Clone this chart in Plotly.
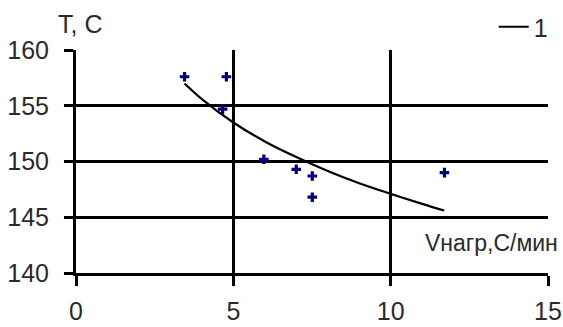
import plotly.graph_objects as go

# Data
v_heat = [3.45, 4.78, 4.66, 5.97, 7.00, 7.51, 7.51, 11.71]
temp = [157.6, 157.6, 154.7, 150.2, 149.3, 148.7, 146.8, 149.0]

trend_x = [3.45, 4, 5, 6, 7, 8, 9, 10, 11, 11.7]
trend_y = [157.0, 155.6, 153.5, 151.8, 150.4, 149.15, 148.05, 147.1, 146.2, 145.6]

x_ticks = [0, 5, 10, 15]
y_ticks = [140, 145, 150, 155, 160]

FONT = "Liberation Sans, Arial, sans-serif"
TXT = "#2a2a2a"

fig = go.Figure()
fig.add_trace(go.Scatter(
    x=trend_x, y=trend_y, mode="lines", name="1",
    line=dict(color="black", width=2.2, shape="spline"),
))
fig.add_trace(go.Scatter(
    x=v_heat, y=temp, mode="markers", showlegend=False,
    marker=dict(symbol="cross", size=8, color="#000080", line=dict(width=0)),
))

fig.update_layout(
    width=563, height=327,
    margin=dict(l=76, r=15, t=50, b=54, autoexpand=False),
    paper_bgcolor="white", plot_bgcolor="white",
    font=dict(family=FONT, size=25, color=TXT),
    showlegend=True,
    legend=dict(x=1.01, xanchor="right", y=1.0, yanchor="bottom",
                font=dict(size=25, color=TXT),
                bgcolor="rgba(0,0,0,0)", borderwidth=0,
                tracegroupgap=0, itemwidth=30),
)
fig.update_xaxes(
    range=[0, 15], tickvals=x_ticks, ticktext=[str(v) for v in x_ticks],
    showgrid=True, gridcolor="black", gridwidth=3,
    showline=True, linecolor="black", linewidth=3,
    ticks="outside", ticklen=10, tickwidth=3, tickcolor="black",
    zeroline=False, ticklabelstandoff=4, automargin=False,
    tickfont=dict(family=FONT, size=25, color=TXT),
)
fig.update_yaxes(
    range=[140, 160], tickvals=y_ticks, ticktext=[str(v) for v in y_ticks],
    showgrid=True, gridcolor="black", gridwidth=3,
    showline=True, linecolor="black", linewidth=3,
    ticks="outside", ticklen=9, tickwidth=3, tickcolor="black",
    zeroline=False, ticklabelstandoff=10, automargin=False,
    tickfont=dict(family=FONT, size=25, color=TXT),
)
fig.add_annotation(
    text="T, C", xref="paper", yref="paper", x=0, y=1, xanchor="center", yanchor="bottom",
    xshift=4, yshift=10, showarrow=False,
    font=dict(family=FONT, size=25, color=TXT),
)
fig.add_annotation(
    text="Vнагр,С/мин", xref="paper", yref="y", x=1, y=142.7, xanchor="right", yanchor="middle",
    xshift=12, showarrow=False,
    font=dict(family=FONT, size=23, color=TXT),
)

fig.write_html("out.html")
